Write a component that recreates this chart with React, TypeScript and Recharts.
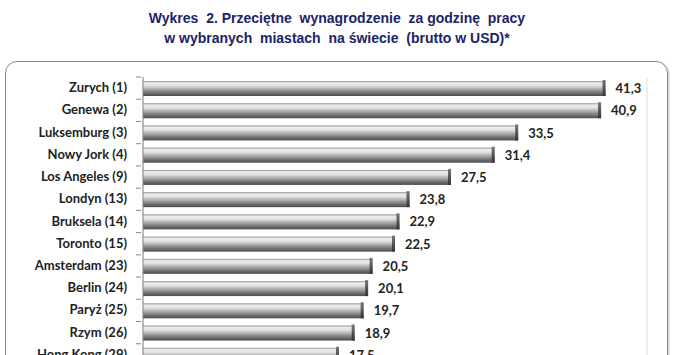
import { BarChart, Bar, XAxis, YAxis, CartesianGrid, LabelList } from 'recharts'

const cities = [
  'Zurych (1)',
  'Genewa (2)',
  'Luksemburg (3)',
  'Nowy Jork (4)',
  'Los Angeles (9)',
  'Londyn (13)',
  'Bruksela (14)',
  'Toronto (15)',
  'Amsterdam (23)',
  'Berlin (24)',
  'Paryż (25)',
  'Rzym (26)',
  'Hong Kong (29)',
]
const wages = [41.3, 40.9, 33.5, 31.4, 27.5, 23.8, 22.9, 22.5, 20.5, 20.1, 19.7, 18.9, 17.5]
const xTicks = [0, 5, 10, 15, 20, 25, 30, 35, 40, 45]

const data = cities.map((city, i) => ({ city, wage: wages[i] }))

const ROW = 289 / cities.length

function CityTick(props: any) {
  const { x, y, payload } = props
  return (
    <g>
      <line x1={x - 1} x2={x + 4} y1={y - ROW / 2} y2={y - ROW / 2} stroke="#888" />
      <text
        x={x - 10}
        y={y}
        dy={4}
        textAnchor="end"
        fill="#222"
        style={{ fontFamily: 'Lato, sans-serif', fontWeight: 700, fontSize: 13 }}
      >
        {payload.value}
      </text>
    </g>
  )
}

function TubeBar(props: any) {
  const { x, y, width, height } = props
  if (!width || width <= 0) return null
  return (
    <g>
      <rect x={x} y={y} width={width} height={height} fill="url(#tube)" />
      <rect x={x + width - 3} y={y - 1} width={3} height={height + 1} fill="url(#cap)" />
    </g>
  )
}

export default function App() {
  return (
    <div
      style={{
        position: 'absolute',
        left: 0,
        top: 0,
        width: 674,
        height: 355,
        overflow: 'hidden',
        background: '#fff',
      }}
    >
      <div
        style={{
          position: 'absolute',
          top: 8,
          left: 0,
          width: 674,
          textAlign: 'center',
          color: '#1b2466',
          fontFamily: 'Arial, "Liberation Sans", sans-serif',
          fontWeight: 700,
          fontSize: 14,
          lineHeight: '20px',
          whiteSpace: 'pre',
        }}
      >
        {'Wykres  2. Przeciętne  wynagrodzenie  za godzinę  pracy\nw wybranych  miastach  na świecie  (brutto w USD)*'}
      </div>
      <div
        style={{
          position: 'absolute',
          left: 5,
          top: 61,
          width: 661,
          height: 400,
          border: '1.5px solid #8a8a8a',
          borderRadius: 12,
          boxShadow: '1px 1px 2px rgba(0,0,0,0.25)',
        }}
      />
      <div style={{ position: 'absolute', left: 0, top: 0 }}>
        <BarChart
          width={674}
          height={400}
          data={data}
          layout="vertical"
          margin={{ top: 77, right: 27, left: 0, bottom: 4 }}
          barSize={15}
        >
          <defs>
            <linearGradient id="tube" x1="0" y1="0" x2="0" y2="1">
              <stop offset="0%" stopColor="#8c8c8c" />
              <stop offset="12%" stopColor="#ededed" />
              <stop offset="30%" stopColor="#e2e2e2" />
              <stop offset="55%" stopColor="#a9a9a9" />
              <stop offset="80%" stopColor="#707070" />
              <stop offset="100%" stopColor="#4b4b4b" />
            </linearGradient>
            <linearGradient id="cap" x1="0" y1="0" x2="0" y2="1">
              <stop offset="0%" stopColor="#777" />
              <stop offset="100%" stopColor="#333" />
            </linearGradient>
          </defs>
          <CartesianGrid horizontal={false} stroke="#dcdcdc" />
          <XAxis type="number" domain={[0, 45]} ticks={xTicks} axisLine={false} tickLine={false} tick={false} />
          <YAxis
            type="category"
            dataKey="city"
            width={143}
            axisLine={{ stroke: '#888' }}
            tickLine={false}
            tick={<CityTick />}
            tickMargin={0}
            interval={0}
          />
          <Bar dataKey="wage" shape={<TubeBar />} isAnimationActive={false}>
            <LabelList
              dataKey="wage"
              position="right"
              offset={10}
              formatter={(v: any) => String(v).replace('.', ',')}
              style={{ fontFamily: 'Lato, sans-serif', fontWeight: 700, fontSize: 13, fill: '#222' }}
            />
          </Bar>
        </BarChart>
      </div>
    </div>
  )
}
